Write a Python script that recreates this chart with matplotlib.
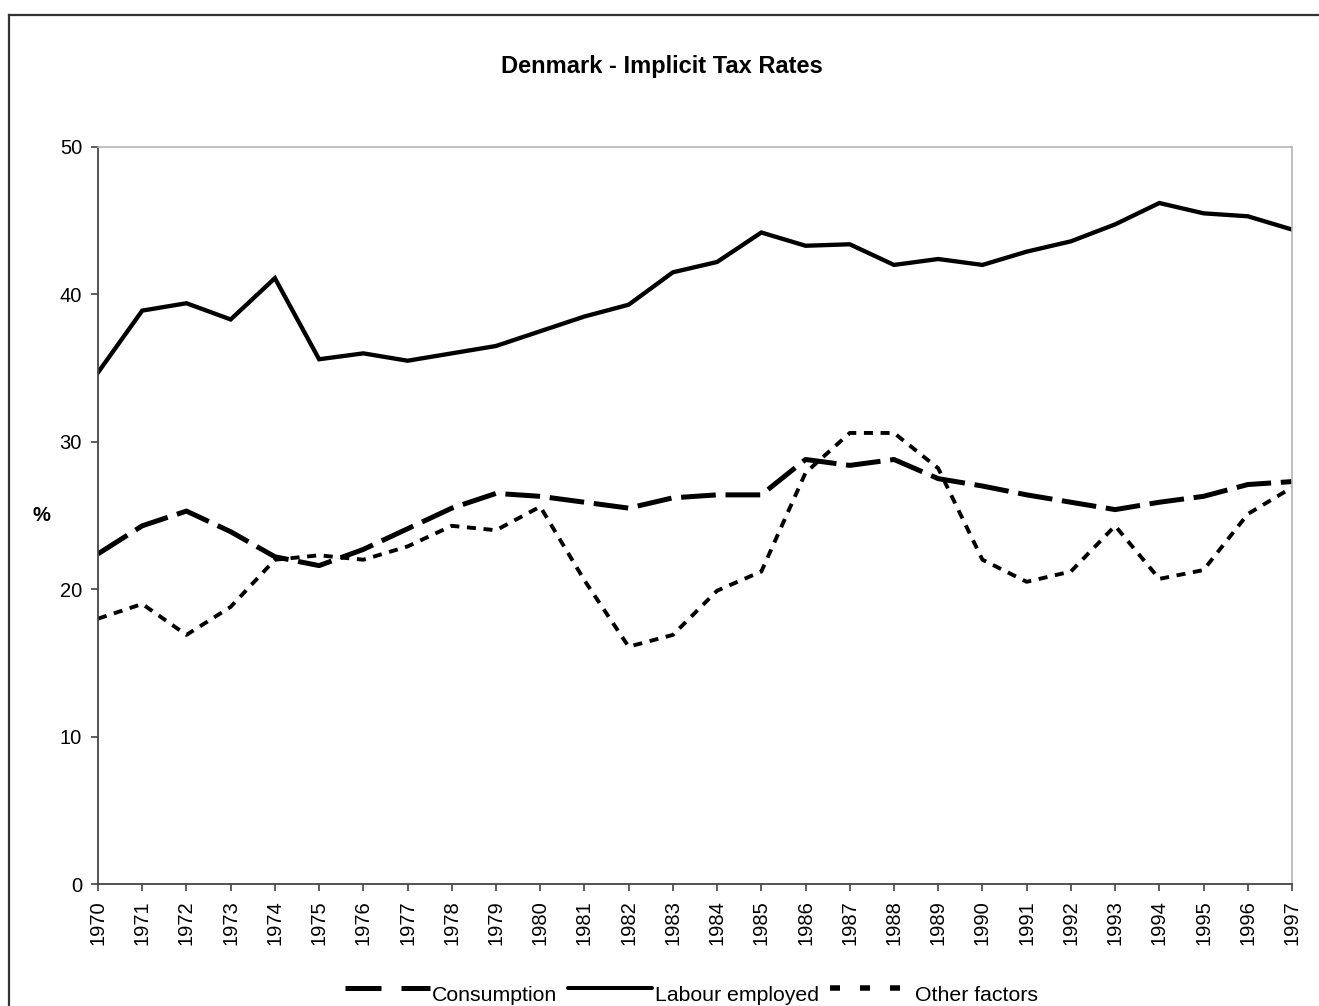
import matplotlib
matplotlib.use("Agg")
import matplotlib.pyplot as plt
from matplotlib.lines import Line2D

plt.rcParams['font.family'] = ['Liberation Sans', 'DejaVu Sans']
plt.rcParams['lines.scale_dashes'] = False

years = list(range(1970, 1998))
consumption = [22.4, 24.3, 25.3, 23.9, 22.2, 21.6, 22.7, 24.1, 25.5, 26.5,
               26.3, 25.9, 25.5, 26.2, 26.4, 26.4, 28.8, 28.4, 28.8, 27.5,
               27.0, 26.4, 25.9, 25.4, 25.9, 26.3, 27.1, 27.3]
labour = [34.7, 38.9, 39.4, 38.3, 41.1, 35.6, 36.0, 35.5, 36.0, 36.5,
          37.5, 38.5, 39.3, 41.5, 42.2, 44.2, 43.3, 43.4, 42.0, 42.4,
          42.0, 42.9, 43.6, 44.75, 46.2, 45.5, 45.3, 44.4]
other = [18.0, 19.0, 16.9, 18.8, 22.0, 22.3, 22.0, 22.9, 24.3, 24.0,
         25.6, 20.6, 16.1, 16.9, 19.9, 21.2, 27.9, 30.6, 30.6, 28.2,
         22.0, 20.5, 21.2, 24.3, 20.7, 21.3, 25.1, 26.9]
series_names = ["Consumption", "Labour employed", "Other factors"]
yticks = [0, 10, 20, 30, 40, 50]

W, H = 1319, 1006
PT = 0.72  # points per pixel at 100 dpi


def fx(px):
    return px / W


def fy(py):
    return 1 - py / H


fig = plt.figure(figsize=(W / 100, H / 100), dpi=100)
ax = fig.add_axes([fx(98), fy(884), (1292 - 98) / W, (884 - 147) / H])

styles = [
    dict(lw=3.6, dashes=(25, 7), dash_capstyle='butt'),
    dict(lw=3.1, solid_joinstyle='miter'),
    dict(lw=2.8, dashes=(6.5, 5.5), dash_capstyle='butt'),
]
for vals, name, st in zip([consumption, labour, other], series_names, styles):
    ax.plot(years, vals, color='black', label=name, **st)

ax.set_xlim(1970, 1997)
ax.set_ylim(0, 50)
ax.set_xticks(years)
ax.set_xticklabels([str(y) for y in years], rotation=90, fontsize=14.5)
ax.set_yticks(yticks)
ax.set_yticklabels([str(v) for v in yticks], fontsize=14.5)
ax.tick_params(axis='both', direction='out', length=5, width=1.2, color='#444444', pad=6.5)

for s in ['left', 'bottom']:
    ax.spines[s].set_color('#444444')
    ax.spines[s].set_linewidth(1.3)
for s in ['top', 'right']:
    ax.spines[s].set_color('#b5b5b5')
    ax.spines[s].set_linewidth(1.2)

ax.set_ylabel('%', rotation=0, fontsize=14.5, fontweight='bold', va='center')
ax.yaxis.set_label_coords(-0.047, 0.5)

fig.text(fx(662), fy(66), 'Denmark - Implicit Tax Rates', ha='center', va='center',
         fontsize=17, fontweight='bold')

# legend (drawn manually to mimic the original layout)
ly = fy(988)
tb = fy(1001)
fig.add_artist(Line2D([fx(345), fx(430)], [ly, ly], color='black', lw=5 * PT,
                      dashes=(36 * PT, 20 * PT), dash_capstyle='butt'))
fig.text(fx(432), tb, series_names[0], ha='left', va='baseline', fontsize=15.3)
fig.add_artist(Line2D([fx(568), fx(652)], [ly, ly], color='black', lw=4 * PT,
                      solid_capstyle='round'))
fig.text(fx(655), tb, series_names[1], ha='left', va='baseline', fontsize=15.3)
fig.add_artist(Line2D([fx(830), fx(900)], [ly, ly], color='black', lw=5.5 * PT,
                      dashes=(10 * PT, 20 * PT), dash_capstyle='butt'))
fig.text(fx(915), tb, series_names[2], ha='left', va='baseline', fontsize=15.3)

# outer frame (left and top edges visible, others clipped)
fig.add_artist(Line2D([fx(9), fx(9)], [0, fy(15)], color='#333333', lw=1.6))
fig.add_artist(Line2D([fx(9), 1], [fy(15), fy(15)], color='#333333', lw=1.6))

fig.savefig('out.png', dpi=100)
